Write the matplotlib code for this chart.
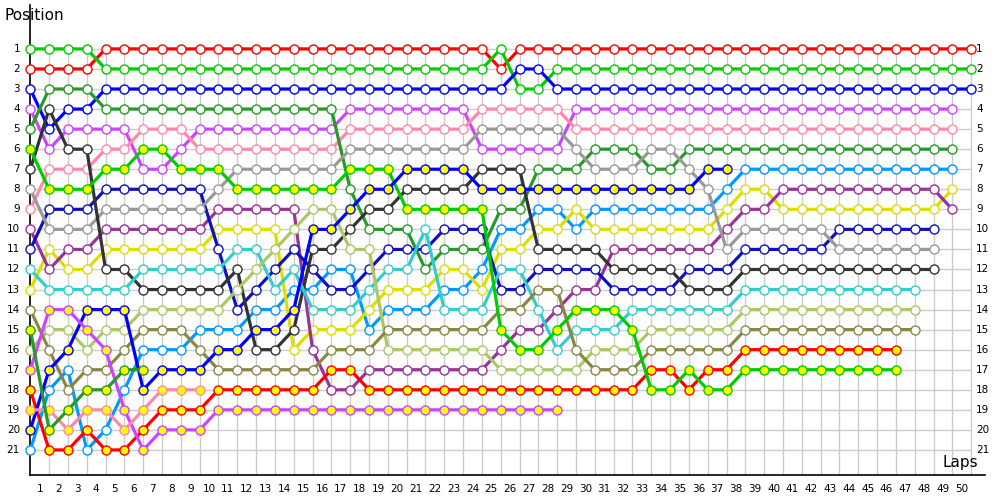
import matplotlib

matplotlib.use("Agg")
import matplotlib.pyplot as plt

# positions per lap, lap 0 = grid
red = [2, 2, 2, 2, 1, 1, 1, 1, 1, 1,
       1, 1, 1, 1, 1, 1, 1, 1, 1, 1,
       1, 1, 1, 1, 1, 2, 1, 1, 1, 1,
       1, 1, 1, 1, 1, 1, 1, 1, 1, 1,
       1, 1, 1, 1, 1, 1, 1, 1, 1, 1, 1]
green = [1, 1, 1, 1, 2, 2, 2, 2, 2, 2,
         2, 2, 2, 2, 2, 2, 2, 2, 2, 2,
         2, 2, 2, 2, 2, 1, 3, 3, 2, 2,
         2, 2, 2, 2, 2, 2, 2, 2, 2, 2,
         2, 2, 2, 2, 2, 2, 2, 2, 2, 2, 2]
blue = [3, 5, 4, 4, 3, 3, 3, 3, 3, 3,
        3, 3, 3, 3, 3, 3, 3, 3, 3, 3,
        3, 3, 3, 3, 3, 3, 2, 2, 3, 3,
        3, 3, 3, 3, 3, 3, 3, 3, 3, 3,
        3, 3, 3, 3, 3, 3, 3, 3, 3, 3, 3]
violet = [4, 6, 5, 5, 5, 5, 7, 7, 6, 5,
          5, 5, 5, 5, 5, 5, 5, 4, 4, 4,
          4, 4, 4, 4, 6, 6, 6, 6, 6, 4,
          4, 4, 4, 4, 4, 4, 4, 4, 4, 4,
          4, 4, 4, 4, 4, 4, 4, 4, 4, 4]
pink = [9, 7, 7, 7, 6, 6, 5, 5, 5, 6,
        6, 6, 6, 6, 6, 6, 6, 5, 5, 5,
        5, 5, 5, 5, 4, 4, 4, 4, 4, 5,
        5, 5, 5, 5, 5, 5, 5, 5, 5, 5,
        5, 5, 5, 5, 5, 5, 5, 5, 5, 5]
dkgreen = [5, 3, 3, 3, 4, 4, 4, 4, 4, 4,
           4, 4, 4, 4, 4, 4, 4, 8, 10, 10,
           10, 12, 11, 11, 11, 9, 9, 7, 7, 7,
           6, 6, 6, 7, 7, 6, 6, 6, 6, 6,
           6, 6, 6, 6, 6, 6, 6, 6, 6, 6]
ltblue = [21, 18, 17, 21, 20, 18, 16, 16, 16, 15,
          15, 15, 14, 14, 13, 13, 12, 12, 15, 14,
          14, 14, 13, 13, 12, 10, 10, 9, 9, 10,
          9, 9, 9, 9, 9, 9, 9, 8, 7, 7,
          7, 7, 7, 7, 7, 7, 7, 7, 7, 7]
yellow = [13, 11, 12, 12, 11, 11, 11, 11, 11, 11,
          10, 10, 10, 10, 16, 15, 15, 15, 14, 13,
          13, 13, 12, 12, 13, 11, 11, 10, 10, 9,
          10, 10, 10, 10, 10, 10, 10, 9, 8, 8,
          9, 9, 9, 9, 9, 9, 9, 9, 9, 8]
plum = [10, 12, 11, 11, 10, 10, 10, 10, 10, 10,
        9, 9, 9, 9, 9, 16, 18, 18, 17, 17,
        17, 17, 17, 17, 17, 16, 15, 15, 14, 13,
        13, 11, 11, 11, 11, 11, 11, 10, 9, 9,
        8, 8, 8, 8, 8, 8, 8, 8, 8, 9]
navy = [11, 9, 9, 9, 8, 8, 8, 8, 8, 8,
        11, 14, 13, 12, 11, 12, 13, 13, 12, 11,
        11, 11, 10, 10, 10, 13, 13, 12, 12, 12,
        12, 13, 13, 13, 13, 12, 12, 12, 11, 11,
        11, 11, 11, 10, 10, 10, 10, 10, 10]
grey = [8, 10, 10, 10, 9, 9, 9, 9, 9, 9,
        8, 7, 7, 7, 7, 7, 7, 6, 6, 6,
        6, 6, 6, 6, 5, 5, 5, 5, 5, 6,
        7, 7, 7, 6, 6, 7, 8, 11, 10, 10,
        10, 10, 10, 11, 11, 11, 11, 11, 11]
black = [7, 4, 6, 6, 12, 12, 13, 13, 13, 13,
         13, 12, 16, 16, 15, 11, 11, 10, 9, 9,
         8, 8, 8, 8, 7, 7, 7, 11, 11, 11,
         11, 12, 12, 12, 12, 13, 13, 13, 12, 12,
         12, 12, 12, 12, 12, 12, 12, 12, 12]
cyan = [12, 13, 13, 13, 13, 13, 12, 12, 12, 12,
        12, 11, 11, 13, 12, 14, 14, 14, 13, 12,
        12, 10, 14, 14, 14, 12, 12, 14, 16, 15,
        15, 15, 14, 14, 14, 14, 14, 14, 13, 13,
        13, 13, 13, 13, 13, 13, 13, 13]
ltolive = [16, 15, 15, 16, 15, 15, 14, 14, 14, 14,
           14, 13, 12, 11, 10, 9, 9, 11, 11, 16,
           16, 16, 16, 16, 16, 17, 17, 17, 17, 17,
           16, 16, 16, 15, 15, 15, 15, 15, 14, 14,
           14, 14, 14, 14, 14, 14, 14, 14]
olive = [14, 16, 18, 17, 17, 16, 15, 15, 15, 16,
         17, 17, 17, 17, 17, 17, 16, 16, 16, 15,
         15, 15, 15, 15, 15, 14, 14, 13, 13, 16,
         17, 17, 17, 16, 16, 16, 16, 16, 15, 15,
         15, 15, 15, 15, 15, 15, 15, 15]
red_y = [18, 21, 21, 20, 21, 21, 20, 19, 19, 19,
         18, 18, 18, 18, 18, 18, 17, 17, 18, 18,
         18, 18, 18, 18, 18, 18, 18, 18, 18, 18,
         18, 18, 18, 17, 17, 18, 17, 17, 16, 16,
         16, 16, 16, 16, 16, 16, 16]
green_y = [6, 8, 8, 8, 7, 7, 6, 6, 7, 7,
           7, 8, 8, 8, 8, 8, 8, 7, 7, 7,
           9, 9, 9, 9, 9, 15, 16, 16, 15, 14,
           14, 14, 15, 18, 18, 17, 18, 18, 17, 17,
           17, 17, 17, 17, 17, 17, 17]
blue_y = [20, 17, 16, 14, 14, 14, 18, 17, 17, 17,
          16, 16, 15, 15, 14, 10, 10, 9, 8, 8,
          7, 7, 7, 7, 8, 8, 8, 8, 8, 8,
          8, 8, 8, 8, 8, 8, 7, 7]
violet_y = [17, 14, 14, 15, 16, 19, 21, 20, 20, 20,
            19, 19, 19, 19, 19, 19, 19, 19, 19, 19,
            19, 19, 19, 19, 19, 19, 19, 19, 19]
pink_y = [19, 19, 20, 19, 19, 20, 19, 18, 18, 18]
fgreen_y = [15, 20, 19, 18, 18, 17, 17]

drivers = [
    (red, "#ff0000", False), (green, "#00cc00", False), (blue, "#0000ff", False),
    (violet, "#cc44ff", False), (pink, "#ff88aa", False), (dkgreen, "#269926", False),
    (ltblue, "#0099ff", False), (yellow, "#dddd00", False), (plum, "#993399", False),
    (navy, "#1111bb", False), (grey, "#999999", False), (black, "#333333", False),
    (cyan, "#33cccc", False), (ltolive, "#aac866", False), (olive, "#888844", False),
    (red_y, "#ff0000", True), (green_y, "#00cc00", True), (blue_y, "#0000ff", True),
    (violet_y, "#cc44ff", True), (pink_y, "#ff88aa", True), (fgreen_y, "#269926", True),
]

fig = plt.figure(figsize=(10, 5), dpi=100)
ax = fig.add_axes([0.0303, 0.05, 0.955, 0.94])
ax.set_xlim(0, 50.75)
ax.set_ylim(22.25, -1.19)
for s in ["top", "right"]:
    ax.spines[s].set_visible(False)
ax.spines["left"].set_linewidth(1.2)
ax.spines["bottom"].set_linewidth(1.2)
ax.set_xticks([])
ax.set_yticks([])

ax.vlines(range(1, 51), 0.75, 22.25, color="#cccccc", lw=1, zorder=0)
ax.hlines(range(1, 22), 0, 50, color="#cccccc", lw=1, zorder=0)

for pos, col, filled in drivers:
    ax.plot(range(len(pos)), pos, color=col, lw=2.3, marker="o", ms=6.5,
            mfc="#ffff00" if filled else "white", mec=col, mew=1.0,
            clip_on=False, zorder=3)

for n in range(1, 51):
    ax.text(n - 0.5, 22.95, str(n), ha="center", va="center", fontsize=7.5,
            clip_on=False)
for p in range(1, 22):
    ax.text(-0.55, p, str(p), ha="right", va="center", fontsize=7.5, clip_on=False)
    ax.text(50.27, p, str(p), ha="left", va="center", fontsize=7.5, clip_on=False)

fig.text(0.005, 0.97, "Position", fontsize=11, va="center")
fig.text(0.943, 0.074, "Laps", fontsize=11, va="center")

fig.savefig("out.png")
